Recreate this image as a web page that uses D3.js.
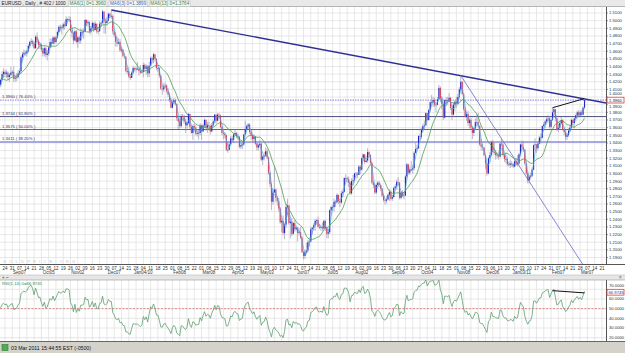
<!DOCTYPE html>
<html><head><meta charset="utf-8">
<script src="https://cdn.jsdelivr.net/npm/d3@7"></script>
<style>html,body{margin:0;padding:0;background:#fff;overflow:hidden}svg{display:block;font-family:"Liberation Sans",Arial,sans-serif}</style>
</head><body><svg id="c" width="625" height="353"></svg>
<script>
// ---------------- DATA ----------------
const symbolTitle = "EURUSD , Daily , # 402 / 1000";
const maLabels = ["MA6(1) 0=1.3960", "MA6(3) 0=1.3899", "MA6(13) 0=1.3764"];
const statusText = "03 Mar 2011 15:44:55 EST (-0500)";
const rsiLabel = "RSI(1,14) 0=66.9745";
const watermark = "GOLDPRICE.ORG";
const firstDate = "2009-08-19";
const axisEndDate = "2011-03-25";
// closes before the first visible bar (Jul 27 – Aug 18 2009), used only by the indicators
const priorCloses = [1.4230,1.4170,1.4090,1.4140,1.4250, 1.4380,1.4410,1.4400,1.4390,1.4180,
  1.4150,1.4130,1.4210,1.4280,1.4190, 1.4080,1.4160];
// daily closes, one line per week (Mon..Fri)
const closes = [
1.4225,1.4300,1.4330,
1.4300,1.4320,1.4260,1.4290,1.4320, 1.4330,1.4240,1.4250,1.4260,1.4310,
1.4340,1.4520,1.4560,1.4580,1.4570, 1.4600,1.4670,1.4720,1.4730,1.4700,
1.4640,1.4790,1.4740,1.4680,1.4690, 1.4620,1.4570,1.4640,1.4550,1.4570,
1.4650,1.4720,1.4700,1.4780,1.4720, 1.4780,1.4850,1.4920,1.4900,1.4910,
1.4950,1.4930,1.5020,1.5020,1.5010, 1.4870,1.4840,1.4740,1.4860,1.4720,
1.4780,1.4740,1.4850,1.4850,1.4860, 1.5010,1.4970,1.4980,1.4860,1.4900,
1.4970,1.4880,1.4960,1.4860,1.4860, 1.4960,1.4970,1.5120,1.4990,1.4970,
1.5000,1.5090,1.5060,1.5060,1.4860, 1.4810,1.4720,1.4700,1.4720,1.4610,
1.4620,1.4540,1.4530,1.4340,1.4340, 1.4270,1.4250,1.4320,1.4380,1.4370,
1.4370,1.4370,1.4340,1.4320,1.4330,
1.4420,1.4370,1.4400,1.4310,1.4410, 1.4510,1.4490,1.4560,1.4500,1.4380,
1.4380,1.4280,1.4110,1.4100,1.4140, 1.4150,1.4080,1.4030,1.3960,1.3860,
1.3930,1.3960,1.3910,1.3720,1.3680, 1.3620,1.3750,1.3740,1.3680,1.3630,
1.3660,1.3780,1.3610,1.3530,1.3620, 1.3600,1.3520,1.3530,1.3530,1.3630,
1.3550,1.3630,1.3700,1.3600,1.3630, 1.3620,1.3550,1.3630,1.3680,1.3770,
1.3690,1.3770,1.3760,1.3610,1.3530, 1.3520,1.3500,1.3310,1.3310,1.3380,
1.3460,1.3440,1.3510,1.3530,1.3490, 1.3480,1.3350,1.3370,1.3380,1.3510,
1.3580,1.3620,1.3640,1.3540,1.3500, 1.3450,1.3480,1.3390,1.3340,1.3370,
1.3390,1.3180,1.3220,1.3230,1.3290, 1.3210,1.3010,1.2860,1.2630,1.2750,
1.2790,1.2680,1.2640,1.2540,1.2360, 1.2380,1.2220,1.2330,1.2560,1.2580,
1.2350,1.2370,1.2210,1.2350,1.2270, 1.2290,1.2220,1.2230,1.2160,1.1970,
1.1920,1.1970,1.1990,1.2100,1.2110, 1.2270,1.2290,1.2320,1.2380,1.2390,
1.2300,1.2290,1.2300,1.2280,1.2380, 1.2280,1.2210,1.2230,1.2520,1.2560,
1.2560,1.2630,1.2620,1.2720,1.2640, 1.2620,1.2740,1.2760,1.2940,1.2940,
1.2930,1.2880,1.2740,1.2900,1.2910, 1.3000,1.2990,1.2980,1.3090,1.3050,
1.3200,1.3250,1.3150,1.3170,1.3280, 1.3240,1.3140,1.2880,1.2850,1.2750,
1.2850,1.2880,1.2850,1.2800,1.2710, 1.2650,1.2640,1.2660,1.2720,1.2760,
1.2670,1.2690,1.2810,1.2830,1.2890, 1.2880,1.2680,1.2750,1.2710,1.2710,
1.2960,1.3120,1.3010,1.3050,1.3050, 1.3070,1.3270,1.3320,1.3330,1.3490,
1.3480,1.3570,1.3620,1.3630,1.3790, 1.3700,1.3830,1.3930,1.3930,1.3960,
1.3900,1.3900,1.3970,1.4120,1.3980, 1.3910,1.3730,1.3960,1.3960,1.3950,
1.3990,1.3860,1.3770,1.3900,1.3940, 1.3920,1.4000,1.4100,1.4200,1.4040,
1.3840,1.3740,1.3780,1.3660,1.3700, 1.3600,1.3530,1.3590,1.3670,1.3670,
1.3620,1.3380,1.3350,1.3340,1.3240, 1.3130,1.3000,1.3200,1.3240,1.3410,
1.3280,1.3270,1.3240,1.3230,1.3220, 1.3390,1.3380,1.3240,1.3190,1.3190,
1.3120,1.3110,1.3130,1.3120,1.3090, 1.3160,1.3120,1.3130,1.3250,1.3380,
1.3340,1.3310,1.3130,1.3000,1.2910, 1.2960,1.2970,1.3050,1.3370,1.3380,
1.3330,1.3390,1.3470,1.3470,1.3620, 1.3640,1.3680,1.3710,1.3720,1.3610,
1.3700,1.3800,1.3840,1.3720,1.3580, 1.3600,1.3660,1.3700,1.3580,1.3540,
1.3480,1.3500,1.3560,1.3600,1.3700, 1.3660,1.3720,1.3760,1.3800,1.3760,
1.3800,1.3770,1.3860,1.3960];
const highs = [
1.4235,1.4340,1.4375,
1.4350,1.4360,1.4340,1.4310,1.4400, 1.4350,1.4400,1.4290,1.4310,1.4350,
1.4370,1.4540,1.4590,1.4620,1.4610, 1.4620,1.4690,1.4740,1.4770,1.4750,
1.4730,1.4810,1.4845,1.4760,1.4720, 1.4700,1.4640,1.4670,1.4660,1.4620,
1.4670,1.4770,1.4760,1.4800,1.4790, 1.4800,1.4870,1.4940,1.4950,1.4940,
1.4970,1.4990,1.5060,1.5040,1.5060, 1.5050,1.4890,1.4850,1.4880,1.4880,
1.4800,1.4800,1.4900,1.4890,1.4900, 1.5020,1.5010,1.5010,1.4990,1.4920,
1.4990,1.4980,1.4990,1.4960,1.4920, 1.4990,1.4990,1.5145,1.5110,1.5020,
1.5050,1.5110,1.5100,1.5140,1.5080, 1.4880,1.4850,1.4790,1.4770,1.4760,
1.4660,1.4630,1.4580,1.4530,1.4380, 1.4390,1.4300,1.4340,1.4410,1.4390,
1.4400,1.4460,1.4390,1.4420,1.4350,
1.4450,1.4440,1.4430,1.4420,1.4460, 1.4530,1.4530,1.4580,1.4560,1.4510,
1.4400,1.4390,1.4290,1.4160,1.4180, 1.4190,1.4170,1.4120,1.4060,1.3990,
1.3950,1.3990,1.3980,1.3920,1.3740, 1.3710,1.3780,1.3780,1.3770,1.3720,
1.3680,1.3790,1.3780,1.3630,1.3640, 1.3650,1.3630,1.3580,1.3570,1.3660,
1.3640,1.3650,1.3720,1.3710,1.3670, 1.3680,1.3640,1.3660,1.3700,1.3780,
1.3770,1.3790,1.3790,1.3770,1.3630, 1.3560,1.3540,1.3510,1.3420,1.3410,
1.3490,1.3490,1.3530,1.3580,1.3540, 1.3520,1.3490,1.3400,1.3420,1.3520,
1.3690,1.3640,1.3660,1.3660,1.3570, 1.3520,1.3510,1.3490,1.3400,1.3390,
1.3440,1.3400,1.3240,1.3280,1.3340, 1.3320,1.3220,1.3020,1.2880,1.2810,
1.3090,1.2800,1.2700,1.2680,1.2560, 1.2420,1.2450,1.2360,1.2600,1.2670,
1.2590,1.2400,1.2420,1.2370,1.2390, 1.2320,1.2300,1.2280,1.2300,1.2180,
1.1990,1.2000,1.2090,1.2130,1.2160, 1.2300,1.2300,1.2350,1.2400,1.2400,
1.2436,1.2340,1.2330,1.2360,1.2390, 1.2390,1.2300,1.2270,1.2530,1.2580,
1.2590,1.2670,1.2650,1.2740,1.2720, 1.2660,1.2770,1.2790,1.2950,1.2990,
1.2960,1.2960,1.2900,1.2940,1.2980, 1.3010,1.3020,1.3020,1.3110,1.3110,
1.3210,1.3260,1.3250,1.3230,1.3330, 1.3290,1.3250,1.3150,1.2910,1.2860,
1.2870,1.2900,1.2900,1.2870,1.2810, 1.2730,1.2670,1.2700,1.2740,1.2790,
1.2780,1.2720,1.2830,1.2860,1.2920, 1.2950,1.2890,1.2770,1.2780,1.2760,
1.2980,1.3140,1.3110,1.3090,1.3160, 1.3110,1.3290,1.3400,1.3380,1.3500,
1.3520,1.3600,1.3650,1.3690,1.3800, 1.3790,1.3850,1.3950,1.4030,1.4000,
1.3990,1.3930,1.4000,1.4160,1.4140, 1.4000,1.3940,1.3970,1.4000,1.4000,
1.4050,1.4000,1.3900,1.3930,1.3960, 1.4000,1.4040,1.4130,1.4282,1.4210,
1.4050,1.3880,1.3800,1.3820,1.3720, 1.3730,1.3620,1.3610,1.3720,1.3770,
1.3790,1.3630,1.3450,1.3390,1.3340, 1.3250,1.3130,1.3220,1.3280,1.3430,
1.3440,1.3400,1.3300,1.3270,1.3290, 1.3400,1.3450,1.3400,1.3260,1.3270,
1.3220,1.3150,1.3180,1.3160,1.3140, 1.3190,1.3200,1.3240,1.3270,1.3390,
1.3430,1.3420,1.3320,1.3150,1.3020, 1.2980,1.3010,1.3080,1.3380,1.3460,
1.3380,1.3420,1.3490,1.3530,1.3630, 1.3670,1.3700,1.3740,1.3760,1.3750,
1.3720,1.3860,1.3860,1.3840,1.3730, 1.3640,1.3690,1.3740,1.3710,1.3600,
1.3570,1.3530,1.3590,1.3640,1.3720, 1.3710,1.3730,1.3780,1.3820,1.3830,
1.3820,1.3830,1.3880,1.3980];
const lows = [
1.4130,1.4210,1.4250,
1.4260,1.4250,1.4220,1.4200,1.4270, 1.4270,1.4200,1.4200,1.4210,1.4240,
1.4300,1.4320,1.4480,1.4530,1.4540, 1.4530,1.4580,1.4640,1.4690,1.4660,
1.4630,1.4630,1.4710,1.4630,1.4630, 1.4590,1.4530,1.4530,1.4520,1.4480,
1.4540,1.4640,1.4660,1.4690,1.4690, 1.4700,1.4760,1.4840,1.4860,1.4820,
1.4880,1.4880,1.4920,1.4960,1.4990, 1.4850,1.4780,1.4690,1.4730,1.4700,
1.4640,1.4700,1.4700,1.4780,1.4760, 1.4870,1.4930,1.4920,1.4830,1.4820,
1.4880,1.4850,1.4870,1.4830,1.4820, 1.4860,1.4920,1.4960,1.4830,1.4830,
1.4940,1.4990,1.5030,1.5030,1.4820, 1.4780,1.4660,1.4660,1.4690,1.4590,
1.4580,1.4520,1.4500,1.4320,1.4300, 1.4250,1.4220,1.4250,1.4300,1.4350,
1.4320,1.4350,1.4280,1.4300,1.4310,
1.4260,1.4330,1.4290,1.4260,1.4260, 1.4410,1.4440,1.4440,1.4460,1.4350,
1.4330,1.4250,1.4090,1.4030,1.4070, 1.4110,1.4050,1.4000,1.3930,1.3850,
1.3860,1.3900,1.3890,1.3690,1.3580, 1.3590,1.3600,1.3690,1.3650,1.3530,
1.3590,1.3640,1.3580,1.3520,1.3440, 1.3550,1.3500,1.3480,1.3440,1.3500,
1.3440,1.3540,1.3590,1.3560,1.3530, 1.3590,1.3510,1.3540,1.3610,1.3660,
1.3650,1.3680,1.3710,1.3590,1.3500, 1.3450,1.3460,1.3290,1.3270,1.3300,
1.3380,1.3410,1.3400,1.3490,1.3460, 1.3440,1.3330,1.3320,1.3320,1.3360,
1.3550,1.3560,1.3580,1.3520,1.3440, 1.3410,1.3400,1.3370,1.3300,1.3300,
1.3350,1.3160,1.3110,1.3170,1.3220, 1.3190,1.2980,1.2820,1.2520,1.2590,
1.2760,1.2620,1.2580,1.2500,1.2340, 1.2230,1.2190,1.2140,1.2290,1.2450,
1.2330,1.2150,1.2180,1.2200,1.2240, 1.2250,1.2110,1.2190,1.2140,1.1960,
1.1876,1.1880,1.1940,1.1960,1.2040, 1.2100,1.2200,1.2250,1.2250,1.2330,
1.2290,1.2270,1.2250,1.2250,1.2270, 1.2250,1.2150,1.2150,1.2210,1.2470,
1.2510,1.2500,1.2560,1.2620,1.2600, 1.2560,1.2600,1.2690,1.2750,1.2890,
1.2880,1.2820,1.2720,1.2720,1.2840, 1.2880,1.2920,1.2940,1.2980,1.2990,
1.3040,1.3170,1.3120,1.3140,1.3140, 1.3200,1.3110,1.2860,1.2810,1.2730,
1.2730,1.2800,1.2820,1.2770,1.2690, 1.2630,1.2590,1.2610,1.2650,1.2640,
1.2650,1.2640,1.2680,1.2790,1.2790, 1.2860,1.2660,1.2660,1.2690,1.2660,
1.2720,1.2920,1.2990,1.2980,1.3030, 1.3000,1.3040,1.3260,1.3290,1.3320,
1.3430,1.3450,1.3540,1.3580,1.3620, 1.3680,1.3690,1.3800,1.3890,1.3870,
1.3870,1.3800,1.3890,1.3960,1.3930, 1.3840,1.3700,1.3720,1.3900,1.3900,
1.3940,1.3830,1.3700,1.3760,1.3810, 1.3860,1.3890,1.3970,1.4080,1.4020,
1.3820,1.3730,1.3690,1.3620,1.3590, 1.3580,1.3450,1.3490,1.3570,1.3640,
1.3600,1.3360,1.3300,1.3300,1.3220, 1.3060,1.2970,1.2990,1.3150,1.3220,
1.3260,1.3240,1.3180,1.3200,1.3180, 1.3210,1.3350,1.3220,1.3150,1.3130,
1.3100,1.3090,1.3070,1.3090,1.3070, 1.3080,1.3100,1.3090,1.3110,1.3230,
1.3300,1.3280,1.3110,1.2980,1.2870, 1.2870,1.2920,1.2950,1.3040,1.3300,
1.3270,1.3300,1.3380,1.3390,1.3460, 1.3580,1.3600,1.3640,1.3660,1.3590,
1.3590,1.3690,1.3760,1.3680,1.3560, 1.3540,1.3580,1.3640,1.3560,1.3500,
1.3430,1.3440,1.3480,1.3540,1.3580, 1.3620,1.3590,1.3680,1.3720,1.3730,
1.3740,1.3740,1.3760,1.3850];
const priceTicks = [1.51,1.50,1.49,1.48,1.47,1.46,1.45,1.44,1.43,1.42,1.41,1.40,1.39,1.38,1.37,1.36,
  1.35,1.34,1.33,1.32,1.31,1.30,1.29,1.28,1.27,1.26,1.25,1.24,1.23,1.22,1.21,1.20,1.19];
const rsiTicks = [70, 60, 50, 40, 30, 20];
const monthLabels = [["2009-09-07","Sep07"],["2009-10-05","Oct05"],["2009-11-02","Nov02"],["2009-12-07","Dec07"],
  ["2010-01-04","Jan04/10"],["2010-02-08","Feb08"],["2010-03-08","Mar08"],["2010-04-05","Apr05"],["2010-05-03","May03"],
  ["2010-06-07","Jun07"],["2010-07-05","Jul05"],["2010-08-02","Aug02"],["2010-09-06","Sep06"],["2010-10-04","Oct04"],
  ["2010-11-08","Nov08"],["2010-12-06","Dec06"],["2011-01-03","Jan03/11"],["2011-02-07","Feb07"],["2011-03-07","Mar07"]];
const fibPrices = [1.3960, 1.3744, 1.3575, 1.3411];
const fibPcts = ["76.40%", "61.80%", "50.00%", "38.20%"];
const currentPrice = 1.3960;
const currentRSI = 66.9745;
// trendline anchors [date, value]
const resistanceLine = [["2009-12-03", 1.5140], ["2011-03-03", 1.3975]];
const fanLine = [["2010-11-04", 1.4282], ["2011-01-10", 1.2895]];
const highsLine = [["2011-02-01", 1.3860], ["2011-03-03", 1.3980]];
const rsiLine = [["2011-02-01", 68.6], ["2011-03-03", 66.3]];

// ---------------- LAYOUT ----------------
const svg = d3.select("#c");
const W = 625, H = 353;
const plotR = 606, mainTop = 7, mainBot = 264, rsiTop = 280, rsiBot = 341;
const FONT = 4.7;

const parse = d3.utcParse("%Y-%m-%d");
const days = [];
for (let d = parse(firstDate); d <= parse(axisEndDate); d = d3.utcDay.offset(d, 1)) {
  const wd = d.getUTCDay(); if (wd !== 0 && wd !== 6) days.push(d);
}
const idxOf = s => { const t = +parse(s); return days.findIndex(d => +d === t); };
const x = d3.scaleLinear().domain([idxOf("2009-08-24"), idxOf("2011-03-21")]).range([5, 602]);
const y = d3.scaleLinear().domain([1.19, 1.51]).range([257.5, 13]);
const ry = d3.scaleLinear().domain([20, 70]).range([337.7, 289.3]);
const mondays = days.map((d, i) => [d, i]).filter(([d]) => d.getUTCDay() === 1);

// keeps an axis label clear of the highlighted current-value box
function labelPos(py, boxY, gap) {
  const dd = py - boxY;
  if (Math.abs(dd) >= gap) return py;
  return boxY + (dd < 0 ? -gap : gap);
}

svg.append("rect").attr("width", W).attr("height", H).attr("fill", "#fff");
const defs = svg.append("defs");
defs.append("clipPath").attr("id", "mainClip").append("rect").attr("x", 0).attr("y", mainTop).attr("width", plotR).attr("height", mainBot - mainTop);
defs.append("clipPath").attr("id", "rsiClip").append("rect").attr("x", 0).attr("y", rsiTop).attr("width", plotR).attr("height", rsiBot - rsiTop);

// title bar
svg.append("rect").attr("x", 0).attr("y", 0).attr("width", W).attr("height", mainTop).attr("fill", "#e9e9e9");
svg.append("line").attr("x1", 0).attr("x2", W).attr("y1", mainTop - 0.5).attr("y2", mainTop - 0.5).attr("stroke", "#a8a8a8").attr("stroke-width", 0.8);
const t0 = svg.append("text").attr("x", 1.5).attr("y", 5.3).attr("font-size", FONT).attr("fill", "#222").text(symbolTitle);
let tx = 1.5 + t0.node().getComputedTextLength() + 3;
const maCols = ["#2f8a3c", "#3a6cc0", "#2f8a3c"];
maLabels.forEach((s, i) => {
  const t = svg.append("text").attr("x", tx + 1).attr("y", 5.3).attr("font-size", FONT).attr("fill", maCols[i]).text(s);
  const w = t.node().getComputedTextLength();
  svg.insert("rect", "text").attr("x", tx).attr("y", 0.8).attr("width", w + 2).attr("height", 5.6).attr("fill", "#f6f6f6").attr("stroke", "#bdbdbd").attr("stroke-width", 0.4);
  tx += w + 4;
});

// main grid
const gMain = svg.append("g").attr("clip-path", "url(#mainClip)");
gMain.selectAll(".vg").data(mondays).join("line").attr("x1", d => x(d[1])).attr("x2", d => x(d[1]))
  .attr("y1", mainTop).attr("y2", mainBot).attr("stroke", "#dedede").attr("stroke-width", 0.7);
gMain.selectAll(".hg").data(priceTicks).join("line").attr("x1", 0).attr("x2", plotR)
  .attr("y1", d => y(d)).attr("y2", d => y(d)).attr("stroke", "#dedede").attr("stroke-width", 0.7);

// watermark
gMain.append("text").attr("x", 3).attr("y", 262.5).attr("font-size", 4).attr("letter-spacing", 3.2).attr("fill", "#c4c4c4").text(watermark);

// fib levels
const fibStyles = [{c: "#7f7fe0", w: 1, dash: "1.5,1"}, {c: "#4c4c7c", w: 1}, {c: "#5a5ab8", w: 1}, {c: "#8c8cdc", w: 1.6}];
fibPrices.forEach((p, i) => {
  const st = fibStyles[i];
  gMain.append("line").attr("x1", 0).attr("x2", plotR).attr("y1", y(p)).attr("y2", y(p))
    .attr("stroke", st.c).attr("stroke-width", st.w).attr("stroke-dasharray", st.dash || null);
  gMain.append("text").attr("x", 2).attr("y", y(p) - 2).attr("font-size", 4.2).attr("fill", "#33336a")
    .text(`${p.toFixed(4)} ( ${fibPcts[i]} )`);
});

// trendlines
function ray(a, b, scaleY, ext) {
  const x1 = x(idxOf(a[0])), y1 = scaleY(a[1]), x2 = x(idxOf(b[0])), y2 = scaleY(b[1]);
  return [x1, y1, x1 + (x2 - x1) * ext, y1 + (y2 - y1) * ext];
}
const r1 = ray(resistanceLine[0], resistanceLine[1], y, 3);
gMain.append("line").attr("x1", r1[0]).attr("y1", r1[1]).attr("x2", r1[2]).attr("y2", r1[3]).attr("stroke", "#2e2e92").attr("stroke-width", 1.4);
const r2 = ray(fanLine[0], fanLine[1], y, 4);
gMain.append("line").attr("x1", r2[0]).attr("y1", r2[1]).attr("x2", r2[2]).attr("y2", r2[3]).attr("stroke", "#6a6ac8").attr("stroke-width", 0.8);
const r3 = ray(highsLine[0], highsLine[1], y, 1);
gMain.append("line").attr("x1", r3[0]).attr("y1", r3[1]).attr("x2", r3[2]).attr("y2", r3[3]).attr("stroke", "#111").attr("stroke-width", 1);

// candles
const nP = priorCloses.length;
const allC = priorCloses.concat(closes);
const bars = closes.map((c, i) => {
  const o = allC[nP + i - 1];
  return {i, o, c, h: Math.max(highs[i], o, c), l: Math.min(lows[i], o, c)};
});
const gC = gMain.append("g");
gC.selectAll(".wick").data(bars).join("line").attr("x1", d => x(d.i)).attr("x2", d => x(d.i))
  .attr("y1", d => y(d.h)).attr("y2", d => y(d.l)).attr("stroke", "#8a8aa6").attr("stroke-width", 0.6);
gC.selectAll(".body").data(bars).join("rect").attr("x", d => x(d.i) - 0.55).attr("width", 1.1)
  .attr("y", d => y(Math.max(d.o, d.c))).attr("height", d => Math.max(0.6, Math.abs(y(d.o) - y(d.c))))
  .attr("fill", d => d.c >= d.o ? "#2323c4" : "#d8415e");

// moving averages
function sma(k) {
  return closes.map((c, i) => { const j = nP + i; return d3.mean(allC.slice(j - k + 1, j + 1)); });
}
const lineGen = d3.line().x((d, i) => x(i)).y(d => y(d));
gMain.append("path").attr("d", lineGen(sma(3))).attr("fill", "none").attr("stroke", "#4aa6e8").attr("stroke-width", 0.7);
gMain.append("path").attr("d", lineGen(sma(13))).attr("fill", "none").attr("stroke", "#4f9a55").attr("stroke-width", 0.8);

// main borders and price axis
svg.append("line").attr("x1", plotR + 0.5).attr("x2", plotR + 0.5).attr("y1", mainTop).attr("y2", mainBot).attr("stroke", "#555").attr("stroke-width", 1);
svg.append("line").attr("x1", 0).attr("x2", W).attr("y1", mainBot + 0.5).attr("y2", mainBot + 0.5).attr("stroke", "#555").attr("stroke-width", 1);
const boxP = y(currentPrice);
svg.selectAll(".pt").data(priceTicks).join("text").attr("x", 609).attr("y", d => labelPos(y(d), boxP, 6.2)).attr("dy", "0.35em")
  .attr("font-size", 4.2).attr("fill", "#333").text(d => d.toFixed(4));
svg.selectAll(".ptk").data(priceTicks).join("line").attr("x1", plotR).attr("x2", plotR + 2).attr("y1", d => y(d)).attr("y2", d => y(d)).attr("stroke", "#555").attr("stroke-width", 0.6);
svg.append("rect").attr("x", 607).attr("y", boxP - 2.9).attr("width", 17).attr("height", 5.8).attr("fill", "#fff").attr("stroke", "#e03a3a").attr("stroke-width", 0.8);
svg.append("text").attr("x", 609).attr("y", boxP).attr("dy", "0.35em").attr("font-size", 4.2).attr("fill", "#222").text(currentPrice.toFixed(4));

// date axis
const fmtDay = d3.utcFormat("%d");
svg.selectAll(".dl").data(mondays.filter(d => x(d[1]) > 0 && x(d[1]) < 604)).join("text").attr("x", d => x(d[1])).attr("y", 269.6)
  .attr("text-anchor", "middle").attr("font-size", 4.5).attr("fill", "#333").text(d => fmtDay(d[0]));
svg.selectAll(".ml").data(monthLabels).join("text").attr("x", d => x(idxOf(d[0]))).attr("y", 274.2)
  .attr("text-anchor", "middle").attr("font-size", 4.5).attr("fill", "#333").text(d => d[1]);

// rsi header band
svg.append("rect").attr("x", 0).attr("y", 275).attr("width", W).attr("height", rsiTop - 275).attr("fill", "#e6e6e6");
svg.append("line").attr("x1", 0).attr("x2", W).attr("y1", 275).attr("y2", 275).attr("stroke", "#b8b8b8").attr("stroke-width", 0.6);
svg.append("text").attr("x", 2).attr("y", 279.3).attr("font-size", 4.5).attr("fill", "#555").text("+ ⌐");
svg.append("text").attr("x", 619).attr("y", 279.3).attr("font-size", 4.5).attr("fill", "#555").text("×");

// rsi panel
const gR = svg.append("g").attr("clip-path", "url(#rsiClip)");
gR.selectAll(".vg").data(mondays).join("line").attr("x1", d => x(d[1])).attr("x2", d => x(d[1]))
  .attr("y1", rsiTop).attr("y2", rsiBot).attr("stroke", "#dedede").attr("stroke-width", 0.7);
gR.selectAll(".hg").data(rsiTicks).join("line").attr("x1", 0).attr("x2", plotR)
  .attr("y1", d => ry(d)).attr("y2", d => ry(d)).attr("stroke", "#dedede").attr("stroke-width", 0.7);
gR.append("line").attr("x1", 0).attr("x2", plotR).attr("y1", ry(50)).attr("y2", ry(50)).attr("stroke", "#e08888").attr("stroke-width", 1).attr("stroke-dasharray", "2,1.5");

const N = 14;
const rsiAll = new Array(allC.length).fill(null);
let ag = 0, al = 0;
for (let i = 1; i <= N; i++) { const ch = allC[i] - allC[i - 1]; if (ch > 0) ag += ch; else al -= ch; }
ag /= N; al /= N; rsiAll[N] = 100 - 100 / (1 + ag / al);
for (let i = N + 1; i < allC.length; i++) {
  const ch = allC[i] - allC[i - 1];
  ag = (ag * (N - 1) + Math.max(ch, 0)) / N; al = (al * (N - 1) + Math.max(-ch, 0)) / N;
  rsiAll[i] = al === 0 ? 100 : 100 - 100 / (1 + ag / al);
}
const rsi = rsiAll.slice(nP);
gR.append("path").attr("d", d3.line().x((d, i) => x(i)).y(d => ry(d))(rsi)).attr("fill", "none").attr("stroke", "#5e9e70").attr("stroke-width", 0.8);
const r4 = ray(rsiLine[0], rsiLine[1], ry, 1);
gR.append("line").attr("x1", r4[0]).attr("y1", r4[1]).attr("x2", r4[2]).attr("y2", r4[3]).attr("stroke", "#111").attr("stroke-width", 1);
svg.append("text").attr("x", 2).attr("y", 285).attr("font-size", 4.3).attr("fill", "#3a8a4a").text(rsiLabel);

svg.append("line").attr("x1", plotR + 0.5).attr("x2", plotR + 0.5).attr("y1", rsiTop).attr("y2", rsiBot).attr("stroke", "#555");
svg.append("line").attr("x1", 0).attr("x2", W).attr("y1", rsiBot + 0.5).attr("y2", rsiBot + 0.5).attr("stroke", "#666");
svg.append("line").attr("x1", 0).attr("x2", W).attr("y1", rsiTop).attr("y2", rsiTop).attr("stroke", "#999").attr("stroke-width", 0.6);
const boxR = ry(currentRSI);
svg.selectAll(".rt").data(rsiTicks).join("text").attr("x", 609).attr("y", d => labelPos(ry(d), boxR, 6.2)).attr("dy", "0.35em")
  .attr("font-size", 4.2).attr("fill", "#333").text(d => d.toFixed(4));
svg.append("rect").attr("x", 607).attr("y", boxR - 2.9).attr("width", 17).attr("height", 5.8).attr("fill", "#fff").attr("stroke", "#e03a3a").attr("stroke-width", 0.8);
svg.append("text").attr("x", 608.5).attr("y", boxR).attr("dy", "0.35em").attr("font-size", 4.2).attr("fill", "#2a2ab0").text(currentRSI.toFixed(4));

// status bar
svg.append("rect").attr("x", 0).attr("y", rsiBot + 1).attr("width", W).attr("height", H - rsiBot - 1).attr("fill", "#d5d2cc");
svg.append("rect").attr("x", 2).attr("y", 344.5).attr("width", 6).attr("height", 6).attr("fill", "#4caf50").attr("stroke", "#2e7d32").attr("stroke-width", 0.6);
svg.append("text").attr("x", 11).attr("y", 349.8).attr("font-size", 5.2).attr("fill", "#111").text(statusText);
</script></body></html>
